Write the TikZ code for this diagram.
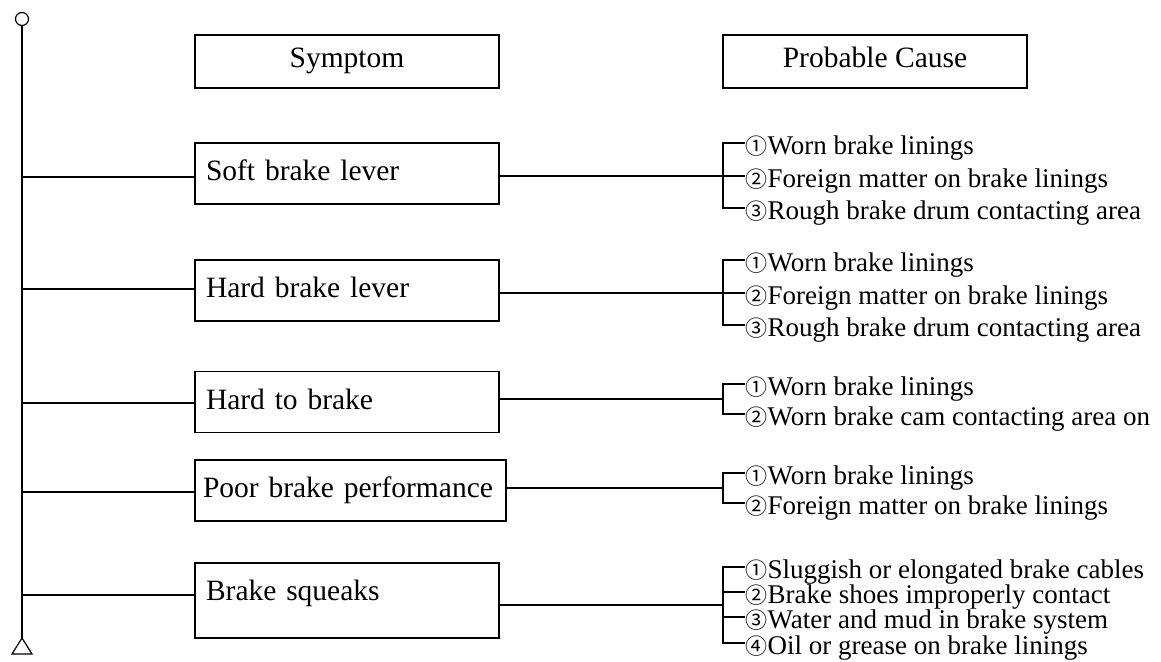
\documentclass[tikz,border=0pt]{standalone}
\usepackage{fontspec}
\setmainfont{Liberation Serif}
\newfontfamily\circfont{Noto Sans CJK SC}
\newcommand{\cn}[1]{{\circfont\fontsize{22}{22}\selectfont #1}}
\begin{document}
\begin{tikzpicture}[x=1pt,y=-1pt,line width=1.3pt,
  hdrbox/.style={draw,rectangle,minimum width=304pt,minimum height=53pt,inner sep=0pt,
    text height=20pt,text depth=9pt,font=\fontsize{29.5}{30}\selectfont},
  symbox/.style={draw,rectangle,minimum height=61pt,inner xsep=11pt,inner ysep=0pt,text width=282pt,align=left,
    text height=20pt,text depth=6pt,font=\fontsize{29.5}{30}\selectfont},
  item/.style={anchor=west,inner sep=0pt,text height=24pt,text depth=2pt,font=\fontsize{27}{27}\selectfont}]
\useasboundingbox (0,0) rectangle (1161,661);
% trunk
\node[draw,circle,minimum size=13pt,inner sep=0pt,line width=1.2pt] (top) at (22,19) {};
\coordinate (apex) at (22,638);
\draw[line width=1.2pt] (apex) -- (12,654) -- (32,654) -- cycle;
\draw (top.south) -- (apex);
% headers
\node[hdrbox] (hs) at (347,61.5) {Symptom};
\node[hdrbox] (hp) at (875,61.5) {Probable Cause};
% symptom boxes
\node[symbox] (s1) at (347,173.5) {Soft brake lever};
\node[symbox] (s2) at (347,290.5) {Hard brake lever};
\node[symbox] (s3) at (347,402) {Hard to brake};
\node[symbox,inner xsep=8pt,text width=295pt] (s4) at (350.5,490.5) {Poor brake performance};
\node[symbox,minimum height=75pt,text depth=20pt] (s5) at (347,600.5) {Brake squeaks};
% trunk taps
\foreach \n/\y in {1/177,2/289,3/403,4/492,5/595}{
  \coordinate (t\n) at (22,\y);
  \draw (t\n) -- (t\n -| s\n.west);
}
% bracket points
\foreach \n/\y in {1/176,2/293,3/399,4/488,5/605}{
  \coordinate (b\n) at (723,\y);
  \draw (b\n -| s\n.east) -- (b\n);
}
% group 1
\node[item] (i11) at (745,143) {\cn{①}Worn brake linings};
\node[item] (i12) at (745,176) {\cn{②}Foreign matter on brake linings};
\node[item] (i13) at (745,208) {\cn{③}Rough brake drum contacting area};
\draw (i11.west) -| (b1) |- (i13.west);
\draw (b1) -- (i12.west);
% group 2
\node[item] (i21) at (745,260) {\cn{①}Worn brake linings};
\node[item] (i22) at (745,293) {\cn{②}Foreign matter on brake linings};
\node[item] (i23) at (745,325) {\cn{③}Rough brake drum contacting area};
\draw (i21.west) -| (b2) |- (i23.west);
\draw (b2) -- (i22.west);
% group 3
\node[item] (i31) at (745,384) {\cn{①}Worn brake linings};
\node[item] (i32) at (745,414) {\cn{②}Worn brake cam contacting area on};
\draw (i31.west) -| (b3) |- (i32.west);
% group 4
\node[item] (i41) at (745,473) {\cn{①}Worn brake linings};
\node[item] (i42) at (745,503) {\cn{②}Foreign matter on brake linings};
\draw (i41.west) -| (b4) |- (i42.west);
% group 5
\node[item] (i51) at (745,567) {\cn{①}Sluggish or elongated brake cables};
\node[item] (i52) at (745,592) {\cn{②}Brake shoes improperly contact};
\node[item] (i53) at (745,617) {\cn{③}Water and mud in brake system};
\node[item] (i54) at (745,643) {\cn{④}Oil or grease on brake linings};
\draw (i51.west) -| (b5) |- (i54.west);
\draw (b5 |- i52.west) -- (i52.west);
\draw (b5 |- i53.west) -- (i53.west);
\end{tikzpicture}
\end{document}
